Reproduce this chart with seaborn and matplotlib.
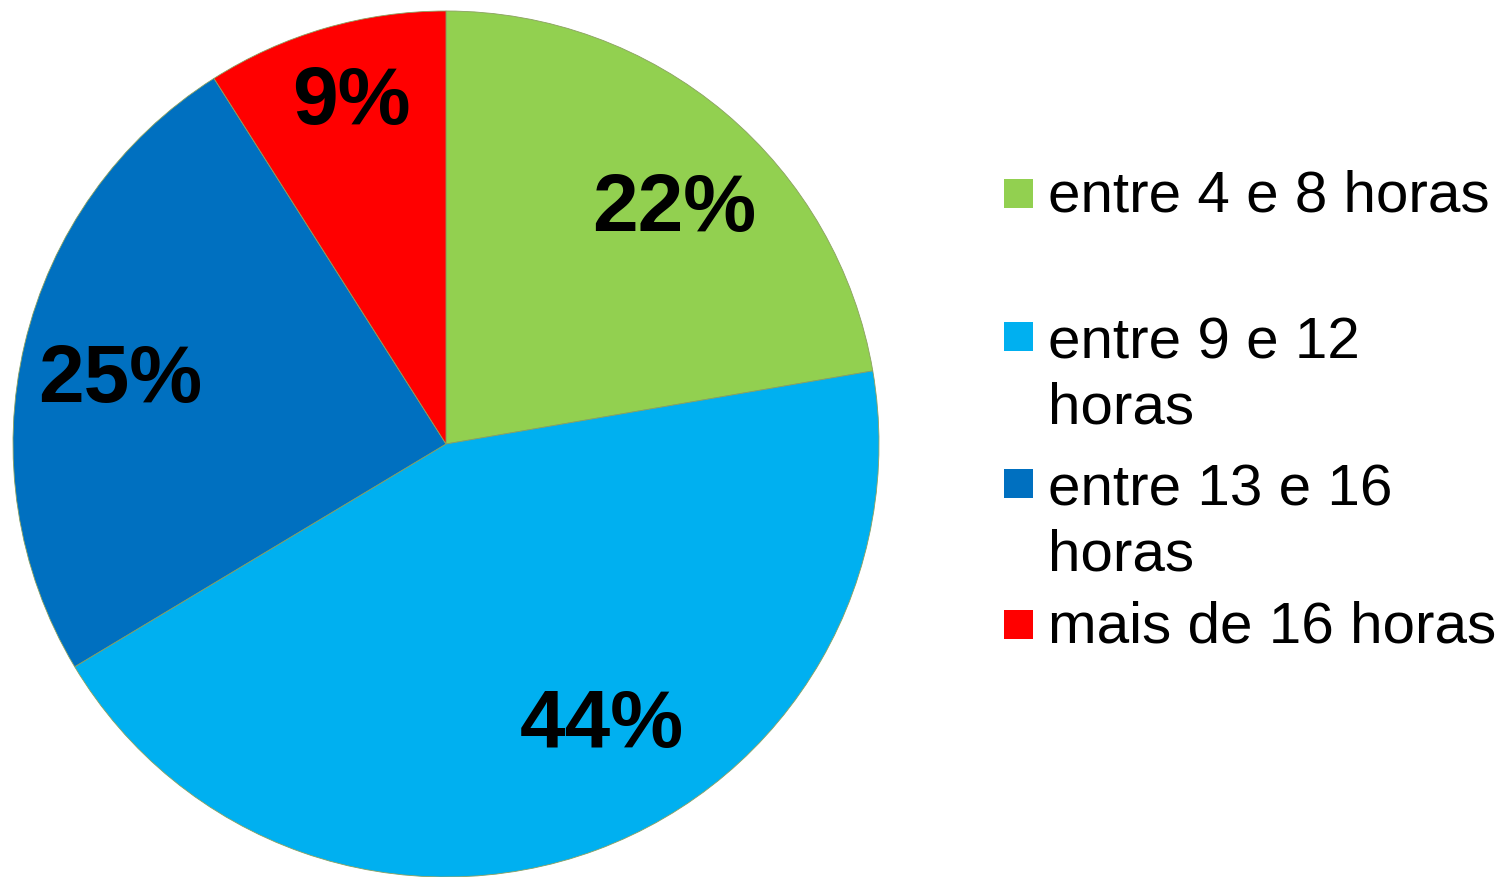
import matplotlib
matplotlib.use("Agg")
import matplotlib.pyplot as plt
import seaborn as sns
from matplotlib.patches import Rectangle

categories = ["entre 4 e 8 horas", "entre 9 e 12\nhoras", "entre 13 e 16\nhoras", "mais de 16 horas"]
values = [22.3, 44.1, 24.6, 9.0]
colors = ["#92D050", "#00B0F0", "#0070C0", "#FF0000"]

sns.set_theme(style="white")
plt.rcParams["font.family"] = ["Liberation Sans", "DejaVu Sans"]

W, H = 1501, 878
fig = plt.figure(figsize=(W / 100, H / 100), dpi=100)
fig.patch.set_facecolor("white")

# pie axes: circle spans x 13..879, y 12..878 (pixels)
R_PX = 433
ax = fig.add_axes([13 / W, 0 / H, 866 / W, 866 / H])
wedges, texts, autotexts = ax.pie(
    values, colors=colors, startangle=90, counterclock=False,
    autopct="%.0f%%", pctdistance=0.77, radius=1.0,
    wedgeprops=dict(linewidth=0.6, edgecolor="#8aa060"),
    textprops=dict(fontsize=59, fontweight="bold", color="black"),
)
# small label nudges (pixels: right, down) to mimic the reference placement
label_nudges = [(13, 20), (40, -32), (-1, 13), (-2, -22)]
for t, (dx, dy) in zip(autotexts, label_nudges):
    x, y = t.get_position()
    t.set_position((x + dx / R_PX, y - dy / R_PX))

ax.set_xlim(-1, 1)
ax.set_ylim(-1, 1)
ax.set_aspect("equal")
ax.axis("off")

# legend drawn as squares + text (first line aligned with the square)
first_baselines = [212, 355, 502, 643]
line_px = 69
sq = 29
x_sq = 1004
x_txt = 1048
for lab, col, yb in zip(categories, colors, first_baselines):
    fig.patches.append(Rectangle((x_sq / W, 1 - (yb - 3) / H), sq / W, sq / H,
                                 transform=fig.transFigure, facecolor=col,
                                 edgecolor="none"))
    nlines = lab.count("\n") + 1
    y_last = yb + (nlines - 1) * line_px
    fig.text(x_txt / W, 1 - y_last / H, lab, fontsize=42, color="black",
             va="baseline", ha="left", linespacing=1.28)

fig.savefig("out.png", dpi=100, facecolor="white")
